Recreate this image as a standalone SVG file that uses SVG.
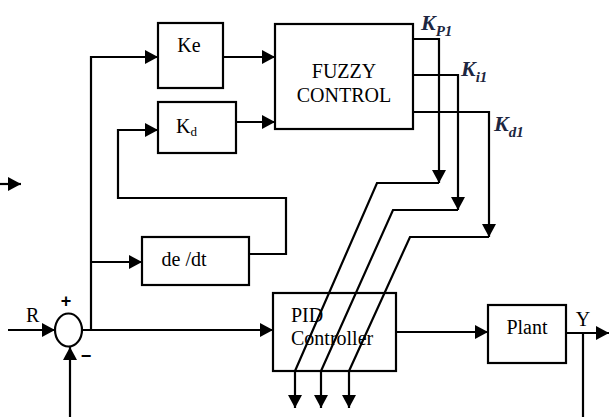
<svg xmlns="http://www.w3.org/2000/svg" width="609" height="417" viewBox="0 0 609 417">
<style>
.box{fill:#fff;stroke:#000;stroke-width:2.2}
.ln{fill:none;stroke:#000;stroke-width:2.2}
.t{font-family:'Liberation Serif','Times New Roman',serif;font-size:20px;fill:#000}
.k{font-family:'Liberation Serif','Times New Roman',serif;font-style:italic;font-weight:bold;font-size:22px;fill:#1c2640}
.ks{font-size:15px}
.sg{font-family:'Liberation Sans',Arial,sans-serif;font-weight:bold;font-size:18px;fill:#000}
</style>
<defs>
<marker id="ah" markerUnits="userSpaceOnUse" markerWidth="14" markerHeight="14" refX="13" refY="7" orient="auto">
<path d="M0,0 L13,7 L0,14 z" fill="#000"/>
</marker>
</defs>
<rect width="609" height="417" fill="#fff"/>
<g id="connectors">
<path class="ln" d="M0,184 H21" marker-end="url(#ah)"/>
<path class="ln" d="M8,330 H55" marker-end="url(#ah)"/>
<path class="ln" d="M70,417 V347" marker-end="url(#ah)"/>
<path class="ln" d="M82,330 H273" marker-end="url(#ah)"/>
<path class="ln" d="M91,330 V57 H158" marker-end="url(#ah)"/>
<path class="ln" d="M91,262 H142" marker-end="url(#ah)"/>
<path class="ln" d="M249,254 H286 V198 H118 V130 H158" marker-end="url(#ah)"/>
<path class="ln" d="M223,57 H275" marker-end="url(#ah)"/>
<path class="ln" d="M236,122 H275" marker-end="url(#ah)"/>
<path class="ln" d="M413,39 H439 V183" marker-end="url(#ah)"/>
<path class="ln" d="M413,75 H458 V210" marker-end="url(#ah)"/>
<path class="ln" d="M413,112 H489 V237" marker-end="url(#ah)"/>
<path class="ln" d="M396,332 H488" marker-end="url(#ah)"/>
<path class="ln" d="M566,333 H609" marker-end="url(#ah)"/>
<path class="ln" d="M583,333 V417"/>
</g>
<g id="summing">
<ellipse cx="68.5" cy="330" rx="13.5" ry="16.5" fill="#fff" stroke="#000" stroke-width="2.2"/>
<text class="t" x="26" y="322">R</text>
<text class="sg" x="66" y="307" text-anchor="middle">+</text>
<text class="sg" x="86" y="362" text-anchor="middle">−</text>
</g>
<g id="ke">
<rect class="box" x="158" y="23" width="65" height="65"/>
<text class="t" x="189" y="52" text-anchor="middle">Ke</text>
</g>
<g id="kd">
<rect class="box" x="158" y="102" width="78" height="51"/>
<text class="t" x="176" y="133">K<tspan font-size="13" dy="3">d</tspan></text>
</g>
<g id="dedt">
<rect class="box" x="142" y="237" width="107" height="48"/>
<text class="t" x="184" y="266" text-anchor="middle">de /dt</text>
</g>
<g id="fuzzy">
<rect class="box" x="275" y="24" width="138" height="105"/>
<text class="t" x="344" y="78" text-anchor="middle">FUZZY</text>
<text class="t" x="344" y="102" text-anchor="middle">CONTROL</text>
</g>
<g id="gain-labels">
<text class="k" x="421" y="30">K<tspan class="ks" dy="6">P1</tspan></text>
<text class="k" x="461" y="76">K<tspan class="ks" dy="6">i1</tspan></text>
<text class="k" x="494" y="131">K<tspan class="ks" dy="6">d1</tspan></text>
</g>
<g id="pid">
<rect class="box" x="273" y="293" width="123" height="78"/>
<text class="t" x="291" y="322">PID</text>
<text class="t" x="291" y="345">Controller</text>
</g>
<g id="plant">
<rect class="box" x="488" y="305" width="78" height="58"/>
<text class="t" x="527" y="334" text-anchor="middle">Plant</text>
<text class="t" x="583" y="326" text-anchor="middle">Y</text>
</g>
<g id="gain-paths">
<path class="ln" d="M439,183 H377 L295,371 V408" marker-end="url(#ah)"/>
<path class="ln" d="M458,210 H393 L321,371 V408" marker-end="url(#ah)"/>
<path class="ln" d="M489,237 H410 L349,371 V408" marker-end="url(#ah)"/>
</g>
</svg>
